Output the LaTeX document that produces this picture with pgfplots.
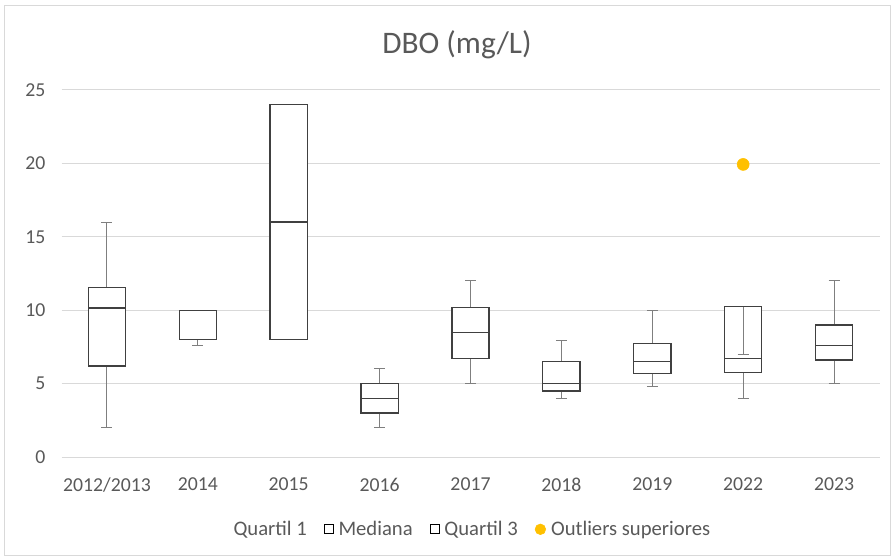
\documentclass[border=0pt]{standalone}
\usepackage{fontspec}
\setmainfont{Carlito}
\usepackage{pgfplots}
\pgfplotsset{compat=1.18}
\usepgfplotslibrary{statistics}
\definecolor{txt}{HTML}{595959}
\definecolor{gridc}{HTML}{D9D9D9}
\definecolor{outl}{HTML}{FFC000}
\definecolor{boxc}{HTML}{404040}
\definecolor{whisk}{HTML}{7F7F7F}
\begin{document}
\begin{tikzpicture}
\useasboundingbox (0,0) rectangle ({891*0.75pt},{-556*0.75pt});
\draw[gridc, line width=0.75pt] ({4*0.75pt},{-6*0.75pt}) rectangle ({890*0.75pt},{-555*0.75pt});
\node[font=\fontsize{23.5}{28}\selectfont, text=txt] at ({457*0.75pt},{-45*0.75pt}) {DBO (mg/L)};
\begin{axis}[
  at={({61.5*0.75pt},{-457*0.75pt})}, anchor=south west,
  scale only axis, width={818*0.75pt}, height={367*0.75pt},
  xmin=-0.5, xmax=8.5, ymin=0, ymax=25,
  ytick={0,5,...,25}, xtick={0,...,8},
  xticklabels={2012/2013,2014,2015,2016,2017,2018,2019,2022,2023},
  ymajorgrids, grid style={gridc, line width=0.75pt},
  axis line style={draw=none}, major tick length=0,
  tick label style={font=\fontsize{14.8}{17}\selectfont, text=txt},
  /pgf/number format/assume math mode=true,
  yticklabel style={xshift=-8.5pt},
  xticklabel style={yshift=-12pt},
  clip=false,
  boxplot/draw direction=y,
  boxplot/box extend=0.41,
  boxplot/whisker extend=0.12,
  boxplot/every box/.style={draw=boxc, line width=1pt, fill=white},
  boxplot/every whisker/.style={draw=whisk, line width=0.75pt},
  boxplot/every median/.style={draw=boxc, line width=1pt},
  legend style={at={(0.5,-0.197)}, anchor=center, draw=none, fill=none,
    legend columns=4, font=\fontsize{15.5}{18}\selectfont, text=txt,
    /tikz/every even column/.append style={column sep=11pt},
    /tikz/every odd column/.append style={column sep=2pt}},
  legend cell align=left,
]
\addplot[forget plot, boxplot prepared={draw position=0, lower whisker=2, lower quartile=6.2, median=10.15, upper quartile=11.56, upper whisker=16}] coordinates {};
\addplot[forget plot, boxplot prepared={draw position=1, lower whisker=7.6, lower quartile=8, median=10, upper quartile=10, upper whisker=10}] coordinates {};
\addplot[forget plot, boxplot prepared={draw position=2, lower whisker=8, lower quartile=8, median=16, upper quartile=24, upper whisker=24}] coordinates {};
\addplot[forget plot, boxplot prepared={draw position=3, lower whisker=2, lower quartile=3, median=4, upper quartile=5, upper whisker=6}] coordinates {};
\addplot[forget plot, boxplot prepared={draw position=4, lower whisker=5, lower quartile=6.7, median=8.47, upper quartile=10.2, upper whisker=12}] coordinates {};
\addplot[forget plot, boxplot prepared={draw position=5, lower whisker=4, lower quartile=4.5, median=5, upper quartile=6.5, upper whisker=7.93}] coordinates {};
\addplot[forget plot, boxplot prepared={draw position=6, lower whisker=4.8, lower quartile=5.68, median=6.5, upper quartile=7.74, upper whisker=10}] coordinates {};
\addplot[forget plot, boxplot prepared={draw position=7, lower whisker=4, lower quartile=5.77, median=6.72, upper quartile=10.24, upper whisker=7}] coordinates {};
\addplot[forget plot, boxplot prepared={draw position=8, lower whisker=5, lower quartile=6.6, median=7.6, upper quartile=9, upper whisker=12}] coordinates {};
% 2022 upper whisker, drawn over the box as in the reference
\addplot[forget plot, draw=whisk, line width=0.75pt] coordinates {(7,10.24) (7,7)};
\addplot[forget plot, draw=whisk, line width=0.75pt] coordinates {(6.94,7) (7.06,7)};
\addplot[forget plot, only marks, mark=*, mark size=4.5pt, mark options={draw=outl, fill=outl}] coordinates {(7,19.93)};
\addlegendimage{empty legend}
\addlegendentry{Quartil 1}
\addlegendimage{only marks, mark=square, mark size=3.4pt, mark options={draw=black, fill=white, line width=0.6pt}}
\addlegendentry{Mediana}
\addlegendimage{only marks, mark=square, mark size=3.4pt, mark options={draw=black, fill=white, line width=0.6pt}}
\addlegendentry{Quartil 3}
\addlegendimage{only marks, mark=*, mark size=4pt, mark options={draw=outl, fill=outl}}
\addlegendentry{Outliers superiores}
\end{axis}
\end{tikzpicture}
\end{document}
